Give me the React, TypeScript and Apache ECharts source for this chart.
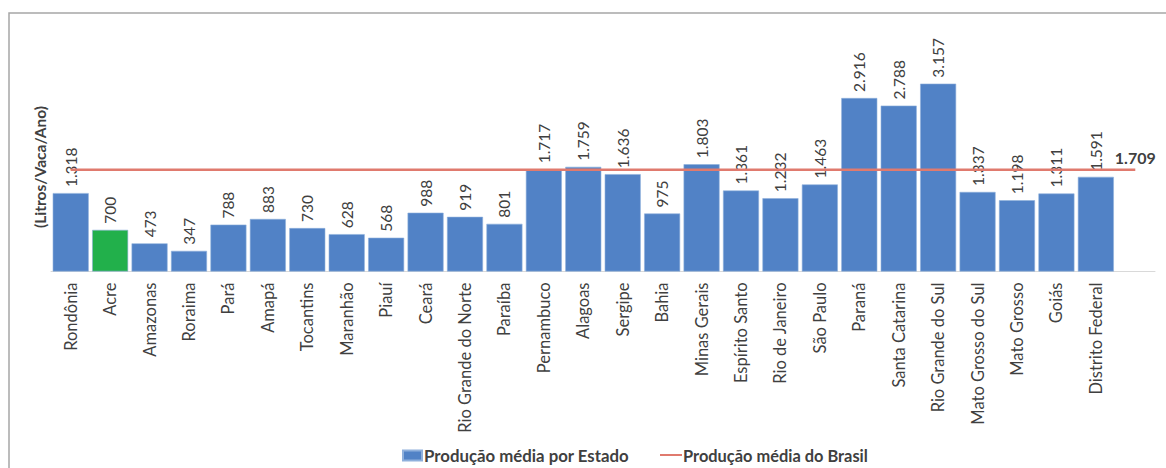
import React, { useEffect, useRef } from "react";
import * as echarts from "echarts";

const states: string[] = [
  "Rondônia", "Acre", "Amazonas", "Roraima", "Pará", "Amapá", "Tocantins",
  "Maranhão", "Piauí", "Ceará", "Rio Grande do Norte", "Paraíba", "Pernambuco",
  "Alagoas", "Sergipe", "Bahia", "Minas Gerais", "Espírito Santo",
  "Rio de Janeiro", "São Paulo", "Paraná", "Santa Catarina", "Rio Grande do Sul",
  "Mato Grosso do Sul", "Mato Grosso", "Goiás", "Distrito Federal", "",
];
const stateValues: (number | string)[] = [
  1318, 700, 473, 347, 788, 883, 730, 628, 568, 988, 919, 801, 1717, 1759,
  1636, 975, 1803, 1361, 1232, 1463, 2916, 2788, 3157, 1337, 1198, 1311, 1591, "-",
];
const brazilAverage = 1709;
const highlighted = "Acre";

const seriesBarName = "Produção média por Estado";
const seriesLineName = "Produção média do Brasil";
const yAxisTitle = "(Litros/Vaca/Ano)";

const FONT = "Lato, 'Open Sans', sans-serif";
const TXT = "#404040";
const LINE_COLOR = "#E07A6E";

const fmt = (v: number) =>
  String(Math.round(v)).replace(/\B(?=(\d{3})+(?!\d))/g, ".");

export default function App() {
  const ref = useRef<HTMLDivElement>(null);
  useEffect(() => {
    document.body.style.margin = "0";
    if (!ref.current) return;
    const chart = echarts.init(ref.current, null, { renderer: "svg" });
    const barData = stateValues.map((v, i) =>
      states[i] === highlighted
        ? { value: v, itemStyle: { color: "#22B04B" } }
        : v
    );
    const lineData = states.map((_, i) =>
      i === states.length - 1
        ? {
            value: brazilAverage,
            label: {
              show: true,
              position: "top",
              distance: 4,
              formatter: (p: any) => fmt(p.value),
              color: TXT,
              fontWeight: "bold",
              fontSize: 16,
              fontFamily: FONT,
            },
          }
        : brazilAverage
    );
    chart.setOption({
      animation: false,
      backgroundColor: "#ffffff",
      grid: {
        left: 51,
        right: 11,
        top: 33.5,
        height: 238,
        containLabel: false,
        outerBoundsMode: "none",
      },
      graphic: [
        {
          type: "rect",
          shape: { x: 9, y: 13, width: 1170, height: 470 },
          style: { fill: "none", stroke: "#a6a6a6", lineWidth: 1.5 },
          silent: true,
        },
        {
          type: "text",
          x: 40,
          y: 167,
          rotation: Math.PI / 2,
          style: {
            text: yAxisTitle,
            align: "center",
            verticalAlign: "middle",
            fill: TXT,
            fontWeight: "bold",
            fontSize: 15.5,
            fontFamily: FONT,
          },
        },
      ],
      legend: [
        {
          data: [seriesBarName],
          left: 397,
          top: 442,
          itemWidth: 19,
          itemHeight: 10,
          icon: "rect",
          textStyle: { color: TXT, fontWeight: "bold", fontSize: 16.8, fontFamily: FONT, padding: [0, 0, 0, -3] },
        },
        {
          data: [{ name: seriesLineName, itemStyle: { color: LINE_COLOR, opacity: 1 } }],
          left: 655,
          top: 442,
          itemWidth: 22,
          itemHeight: 2,
          icon: "rect",
          textStyle: { color: TXT, fontWeight: "bold", fontSize: 16.4, fontFamily: FONT, padding: [0, 0, 0, -4] },
        },
      ],
      xAxis: {
        type: "category",
        data: states,
        axisLine: { show: true, lineStyle: { color: "#d9d9d9", width: 1 } },
        axisTick: { show: false },
        axisLabel: {
          rotate: 90,
          interval: 0,
          margin: 11,
          color: TXT,
          fontSize: 16.5,
          fontFamily: FONT,
        },
      },
      yAxis: {
        type: "value",
        min: 0,
        max: 4000,
        axisLine: { show: false },
        axisTick: { show: false },
        axisLabel: { show: false },
        splitLine: { show: false },
      },
      series: [
        {
          name: seriesBarName,
          type: "bar",
          data: barData,
          barWidth: 36,
          itemStyle: { color: "#5182C6", borderColor: "#8fb0dc", borderWidth: 0.6 },
          label: {
            show: true,
            position: "top",
            rotate: 90,
            align: "left",
            verticalAlign: "middle",
            distance: 6,
            formatter: (p: any) => fmt(p.value),
            color: TXT,
            fontSize: 15.5,
            fontFamily: FONT,
          },
          z: 2,
        },
        {
          name: seriesLineName,
          type: "line",
          data: lineData,
          symbol: "circle",
          symbolSize: 1,
          showSymbol: true,
          lineStyle: { color: LINE_COLOR, width: 2.5 },
          itemStyle: { color: "rgba(0,0,0,0)" },
          z: 3,
        },
      ],
    });
    return () => chart.dispose();
  }, []);
  return <div ref={ref} style={{ width: 1166, height: 468 }} />;
}
